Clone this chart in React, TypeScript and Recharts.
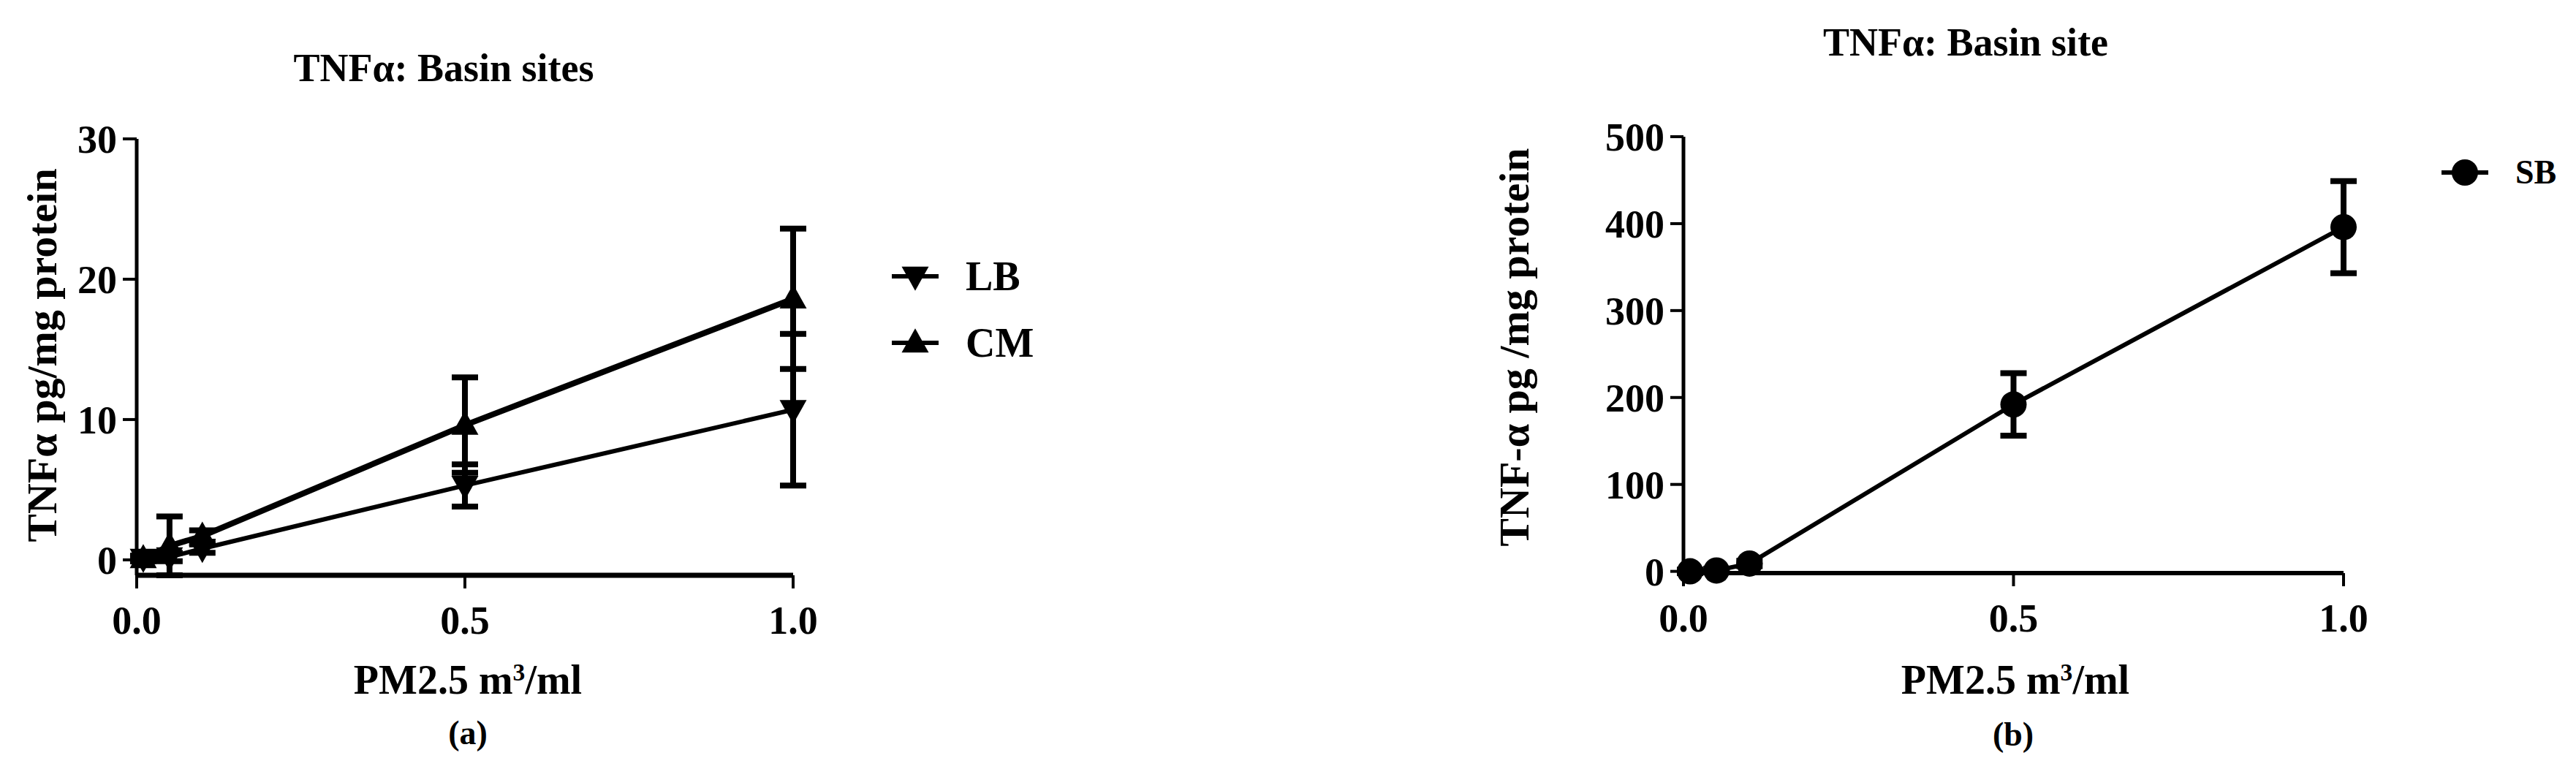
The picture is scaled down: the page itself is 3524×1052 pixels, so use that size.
import React from "react";
import { LineChart, Line, XAxis, YAxis, ErrorBar, Legend } from "recharts";

// PM2.5 doses (m3/ml)
const doses = [0.01, 0.05, 0.1, 0.5, 1.0];

// panel (a): TNFα, pg/mg protein
const lbMean = [0.1, 0.2, 0.8, 5.3, 10.7];
const lbErr = [0.2, 0.3, 0.3, 1.5, 5.4];
const cmMean = [0.1, 1.0, 1.7, 9.6, 18.6];
const cmErr = [0.2, 2.1, 0.4, 3.4, 5.0];

// panel (b)
const sbMean = [0, 1, 9, 192, 396];
const sbErr = [2, 2, 3, 36, 53];

const xTicks = [0, 0.5, 1];
const yTicksA = [0, 10, 20, 30];
const yTicksB = [0, 100, 200, 300, 400, 500];
const legendOrder = ["LB", "CM", "SB"];

const dataA = doses.map((x, i) => ({
  x,
  lb: lbMean[i],
  lbErr: lbErr[i],
  cm: cmMean[i],
  cmErr: cmErr[i],
}));
const dataB = doses.map((x, i) => ({ x, sb: sbMean[i], sbErr: sbErr[i] }));

const SERIF = "'Liberation Serif', 'Times New Roman', serif";
const tickFont = { fontSize: 54, fontFamily: SERIF, fontWeight: "bold", fill: "#000" };

type Shape = "down" | "up" | "circle";

function marker(shape: Shape, cx: number, cy: number, key?: any) {
  if (shape === "circle") return <circle key={key} cx={cx} cy={cy} r={18} fill="#000" />;
  const w = 37;
  const h = 33;
  const d =
    shape === "up"
      ? `M${cx},${cy - h * 0.6} L${cx + w / 2},${cy + h * 0.4} L${cx - w / 2},${cy + h * 0.4} Z`
      : `M${cx},${cy + h * 0.6} L${cx + w / 2},${cy - h * 0.4} L${cx - w / 2},${cy - h * 0.4} Z`;
  return <path key={key} d={d} fill="#000" />;
}

const dotFor = (shape: Shape) => (p: any) =>
  p.cx == null || p.cy == null ? <g key={p.index} /> : marker(shape, p.cx, p.cy, p.index);

const shapes: Record<string, Shape> = { lb: "down", cm: "up", sb: "circle" };

function LegendBox({ payload, fontSize }: { payload?: any[]; fontSize: number }) {
  const items = [...(payload || [])].sort(
    (a: any, b: any) => legendOrder.indexOf(a.value) - legendOrder.indexOf(b.value)
  );
  return (
    <div>
      {items.map((e: any) => (
        <div key={e.value} style={{ display: "flex", alignItems: "center", height: 91 }}>
          <svg width={64} height={44}>
            <line x1={0} y1={22} x2={64} y2={22} stroke="#000" strokeWidth={6} />
            {marker(shapes[e.dataKey], 32, 22)}
          </svg>
          <span
            style={{
              marginLeft: 37,
              fontFamily: SERIF,
              fontWeight: "bold",
              fontSize,
              lineHeight: 1,
              color: "#000",
            }}
          >
            {e.value}
          </span>
        </div>
      ))}
    </div>
  );
}

function Text({
  x,
  y,
  size,
  rotate,
  children,
}: {
  x: number;
  y: number;
  size: number;
  rotate?: boolean;
  children: React.ReactNode;
}) {
  return (
    <div
      style={{
        position: "absolute",
        left: x,
        top: y,
        transform: `translate(-50%, -50%)${rotate ? " rotate(-90deg)" : ""}`,
        fontFamily: SERIF,
        fontWeight: "bold",
        fontSize: size,
        lineHeight: 1,
        whiteSpace: "nowrap",
        color: "#000",
      }}
    >
      {children}
    </div>
  );
}

const pmLabel = (
  <>
    PM2.5 m<sup style={{ fontSize: "0.6em", verticalAlign: "0.55em", lineHeight: 0 }}>3</sup>/ml
  </>
);

export default function App() {
  return (
    <div
      style={{
        position: "absolute",
        left: 0,
        top: 0,
        width: 3524,
        height: 1052,
        background: "#fff",
        overflow: "hidden",
      }}
    >
      {/* panel (a) */}
      <div style={{ position: "absolute", left: 0, top: 0 }}>
        <LineChart
          width={1500}
          height={1052}
          data={dataA}
          margin={{ top: 190, right: 415, bottom: 165, left: 0 }}
        >
          <XAxis
            dataKey="x"
            type="number"
            domain={[0, 1]}
            ticks={xTicks}
            tickFormatter={(v: number) => v.toFixed(1)}
            height={100}
            tick={tickFont}
            tickSize={18}
            tickMargin={24}
            tickLine={{ stroke: "#000", strokeWidth: 4 }}
            axisLine={{ stroke: "#000", strokeWidth: 7 }}
          />
          <YAxis
            type="number"
            domain={[0, 30]}
            ticks={yTicksA}
            width={187}
            tick={tickFont}
            tickSize={19}
            tickMargin={8}
            tickLine={{ stroke: "#000", strokeWidth: 4 }}
            axisLine={{ stroke: "#000", strokeWidth: 5 }}
          />
          <Legend
            layout="vertical"
            align="center"
            verticalAlign="middle"
            wrapperStyle={{ left: 1220, top: 332, width: 260, height: 182 }}
            content={(p: any) => <LegendBox payload={p.payload} fontSize={56} />}
          />
          <Line
            dataKey="lb"
            name="LB"
            type="linear"
            stroke="#000"
            strokeWidth={6}
            dot={dotFor("down")}
            activeDot={false}
            isAnimationActive={false}
          >
            <ErrorBar dataKey="lbErr" direction="y" width={18} strokeWidth={8} stroke="#000" isAnimationActive={false} />
          </Line>
          <Line
            dataKey="cm"
            name="CM"
            type="linear"
            stroke="#000"
            strokeWidth={8}
            dot={dotFor("up")}
            activeDot={false}
            isAnimationActive={false}
          >
            <ErrorBar dataKey="cmErr" direction="y" width={18} strokeWidth={8} stroke="#000" isAnimationActive={false} />
          </Line>
        </LineChart>
      </div>

      {/* panel (b) */}
      <div style={{ position: "absolute", left: 1900, top: 0 }}>
        <LineChart
          width={1624}
          height={1052}
          data={dataB}
          margin={{ top: 187, right: 318, bottom: 168, left: 0 }}
        >
          <XAxis
            dataKey="x"
            type="number"
            domain={[0, 1]}
            ticks={xTicks}
            tickFormatter={(v: number) => v.toFixed(1)}
            height={100}
            tick={tickFont}
            tickSize={18}
            tickMargin={24}
            tickLine={{ stroke: "#000", strokeWidth: 4 }}
            axisLine={{ stroke: "#000", strokeWidth: 6 }}
          />
          <YAxis
            type="number"
            domain={[0, 500]}
            ticks={yTicksB}
            width={403}
            tick={tickFont}
            tickSize={18}
            tickMargin={8}
            tickLine={{ stroke: "#000", strokeWidth: 4 }}
            axisLine={{ stroke: "#000", strokeWidth: 5 }}
          />
          <Legend
            layout="vertical"
            align="center"
            verticalAlign="middle"
            wrapperStyle={{ left: 1440, top: 190, width: 180, height: 91 }}
            content={(p: any) => <LegendBox payload={p.payload} fontSize={46} />}
          />
          <Line
            dataKey="sb"
            name="SB"
            type="linear"
            stroke="#000"
            strokeWidth={6}
            dot={dotFor("circle")}
            activeDot={false}
            isAnimationActive={false}
          >
            <ErrorBar dataKey="sbErr" direction="y" width={18} strokeWidth={8} stroke="#000" isAnimationActive={false} />
          </Line>
        </LineChart>
      </div>

      <Text x={607} y={93} size={54}>TNFα: Basin sites</Text>
      <Text x={2689} y={58} size={54}>TNFα: Basin site</Text>

      <Text x={58} y={486} size={58} rotate>TNFα pg/mg protein</Text>
      <Text x={2072} y={475} size={58} rotate>TNF-α pg /mg protein</Text>

      <Text x={640} y={930} size={56}>{pmLabel}</Text>
      <Text x={2757} y={930} size={56}>{pmLabel}</Text>

      <Text x={640} y={1003} size={46}>(a)</Text>
      <Text x={2754} y={1005} size={46}>(b)</Text>
    </div>
  );
}
